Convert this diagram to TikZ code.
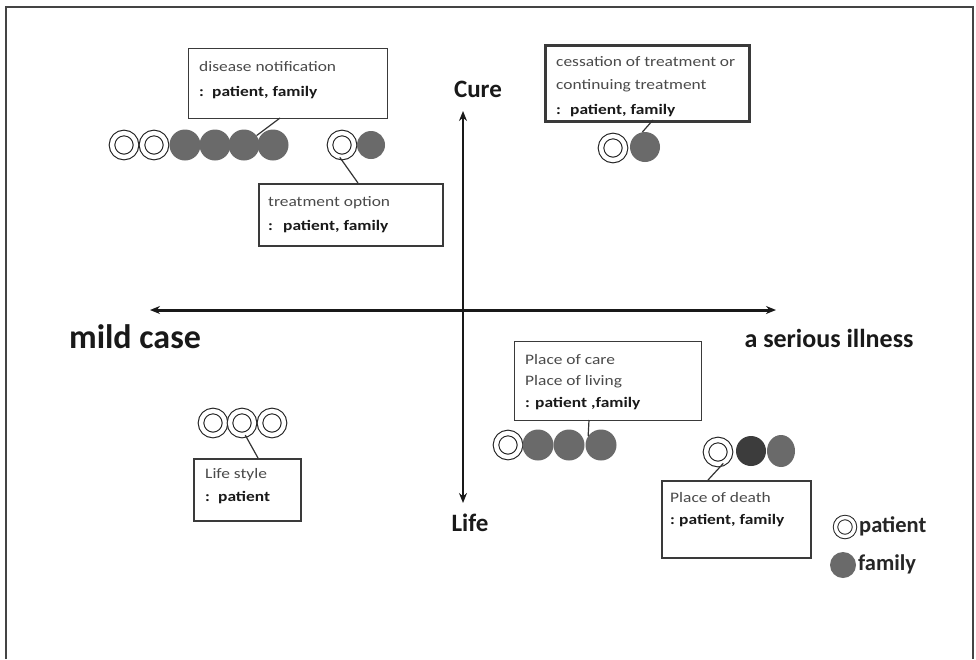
\documentclass[tikz,border=0pt]{standalone}
\usepackage{fontspec}
\setmainfont{Carlito}
\newfontfamily\bxf[FakeStretch=1.2]{Carlito}
\usetikzlibrary{arrows.meta,shapes.geometric}
\definecolor{boxc}{HTML}{3A3A3A}
\definecolor{txtc}{HTML}{4A4A4A}
\definecolor{btxtc}{HTML}{1A1A1A}
\definecolor{famc}{HTML}{6A6A6A}
\definecolor{famdark}{HTML}{3C3C3C}
\definecolor{framec}{HTML}{444444}
\begin{document}
\begin{tikzpicture}[x=1pt,y=-1pt,
  box/.style={draw=boxc, line width=1.3pt, inner sep=0, anchor=north west},
  txt/.style={anchor=base west, inner sep=0, text=txtc, font=\bxf\fontsize{14.5}{17}\selectfont},
  btxt/.style={anchor=base west, inner sep=0, text=btxtc, font=\bxf\fontsize{14.5}{17}\selectfont\bfseries},
  dbl/.style={circle, draw=black!85, line width=1.1pt, double=white, double distance=4.4pt, minimum size=24pt, inner sep=0},
  dbls/.style={circle, draw=black!85, line width=1pt, double=white, double distance=3.4pt, minimum size=19pt, inner sep=0},
  fam/.style={circle, fill=famc, minimum size=31pt, inner sep=0},
  conn/.style={draw=black!80, line width=1.2pt},
  axis/.style={draw=black!90, {Stealth[length=10pt,width=8pt]}-{Stealth[length=10pt,width=8pt]}},
  biglab/.style={inner sep=0, text=black!90, font=\bfseries\fontsize{25}{28}\selectfont}
]
\useasboundingbox (0,0) rectangle (976,659);
\fill[white] (0,0) rectangle (976,659);
% frame
\draw[framec, line width=2pt] (6,659) -- (6,7) -- (973,7) -- (973,659);

% axes
\coordinate (xl) at (150,310);
\coordinate (xr) at (776,310);
\coordinate (yt) at (463,111);
\coordinate (yb) at (463,503);
\draw[axis, line width=3pt] (xl) -- (xr);
\draw[axis, line width=2.2pt] (yt) -- (yb);

% axis labels
\node[biglab] (cure) at (478,89) {Cure};
\node[biglab] (life) at (470,523) {Life};
\node[biglab, font=\bfseries\fontsize{34}{38}\selectfont] (mild) at (135,337) {mild case};
\node[biglab, font=\bfseries\fontsize{26}{30}\selectfont] (serious) at (829,338) {a serious illness};

% box 1: disease notification
\node[box, minimum width=199pt, minimum height=70pt] (b1) at (188,48) {};
\node[txt] (b1a) at (199,71) {disease notification};
\node[btxt] (b1b) at (199,96) {\makebox[13pt][l]{:}patient, family};

% box 2: treatment option
\node[box, line width=2.3pt, minimum width=184pt, minimum height=62pt] (b2) at (258,183) {};
\node[txt] (b2a) at (268,206) {treatment option};
\node[btxt] (b2b) at (268,230) {\makebox[15pt][l]{:}patient, family};

% box 3: cessation
\node[box, line width=2.5pt, minimum width=204pt, minimum height=76pt] (b3) at (544,44) {};
\node[txt] (b3a) at (556,66) {cessation of treatment or};
\node[txt] (b3b) at (556,89) {continuing treatment};
\node[btxt] (b3c) at (556,114) {\makebox[14pt][l]{:}patient, family};

% box 4: place of care
\node[box, minimum width=187pt, minimum height=79pt] (b4) at (514,341) {};
\node[txt] (b4a) at (525,364) {Place of care};
\node[txt] (b4b) at (525,385) {Place of living};
\node[btxt] (b4c) at (525,407) {\makebox[10pt][l]{:}patient ,family};

% box 5: place of death
\node[box, line width=1.5pt, minimum width=149pt, minimum height=77pt] (b5) at (661,480) {};
\node[txt] (b5a) at (670,502) {Place of death};
\node[btxt] (b5b) at (670,524) {\makebox[9pt][l]{:}patient, family};

% box 6: life style
\node[box, line width=1.8pt, minimum width=107pt, minimum height=62pt] (b6) at (193,458) {};
\node[txt] (b6a) at (205,478) {Life style};
\node[btxt] (b6b) at (205,501) {\makebox[13pt][l]{:}patient};

% row 1 circles
\node[dbl] (r1d1) at (124,145) {};
\node[dbl] (r1d2) at (154,145) {};
\node[fam] (r1f1) at (185,145) {};
\node[fam] (r1f2) at (215,145) {};
\node[fam] (r1f3) at (244,145) {};
\node[fam] (r1f4) at (273,145) {};

% pair (treatment option)
\node[dbl] (pd) at (342,145) {};
\node[fam, minimum size=28pt] (pf) at (371,145) {};

% pair (cessation)
\node[dbl] (cd) at (613,148) {};
\node[fam, minimum size=30pt] (cf) at (645,147) {};

% life style circles
\node[dbl] (ls1) at (213,423) {};
\node[dbl] (ls2) at (242,423) {};
\node[dbl] (ls3) at (272,423) {};

% place of care circles
\node[dbl] (pc1) at (508,445) {};
\node[fam] (pc2) at (538,445) {};
\node[fam] (pc3) at (569,445) {};
\node[fam] (pc4) at (601,445) {};

% place of death circles
\node[dbl] (pdd) at (718,452) {};
\node[fam, fill=famdark, minimum size=30pt] (pdf1) at (751,451) {};
\node[ellipse, fill=famc, inner sep=0, minimum width=28pt, minimum height=32pt] (pdf2) at (781,451) {};

% connectors
\coordinate (c1) at (280,118);
\coordinate (c2) at (358,183);
\coordinate (c3) at (653,120);
\coordinate (c4) at (258,458);
\coordinate (c5) at (589,420);
\coordinate (c6) at (708,480);
\draw[conn] (c1) -- (r1f3);
\draw[conn] (pd.-100) -- (c2);
\draw[conn] (c3) -- (cf.100);
\draw[conn] (ls2.-75) -- (c4);
\draw[conn] (c5) -- (pc4.145);
\draw[conn] (pdd.-65) -- (c6);

% legend
\node[dbls] (lgd) at (845,527) {};
\node[fam, minimum size=26pt] (lgf) at (843,565) {};
\node[inner sep=0, anchor=west, text=black!85, font=\bfseries\fontsize{22.5}{26}\selectfont] (lgdt) at (859,526) {patient};
\node[inner sep=0, anchor=west, text=black!85, font=\bfseries\fontsize{22.5}{26}\selectfont] (lgft) at (858,564) {family};
\end{tikzpicture}
\end{document}
